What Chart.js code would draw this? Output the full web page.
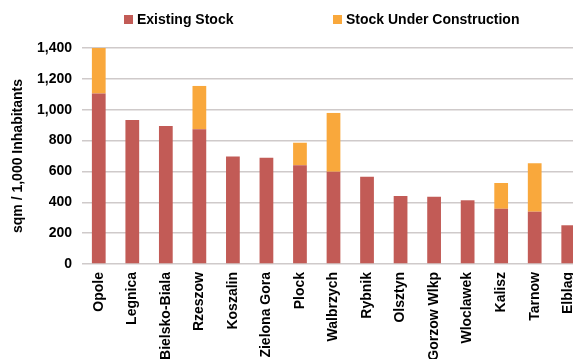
<!DOCTYPE html>
<html>
<head>
<meta charset="utf-8">
<script src="https://cdn.jsdelivr.net/npm/chart.js@4/dist/chart.umd.min.js"></script>
<style>
  html, body { margin: 0; padding: 0; background: #fff; overflow: hidden; }
  #wrap { width: 600px; height: 359px; }
</style>
</head>
<body>
<div id="wrap"><canvas id="chart" width="600" height="359"></canvas></div>
<script>
const cities = ["Opole", "Legnica", "Bielsko-Biala", "Rzeszow", "Koszalin", "Zielona Gora", "Plock",
    "Walbrzych", "Rybnik", "Olsztyn", "Gorzow Wlkp", "Wloclawek", "Kalisz", "Tarnow", "Elblag"];
const existingStock = [1105, 933, 894, 873, 696, 689, 640, 598, 566, 441, 436, 413, 358, 339, 251];
const underConstruction = [300, 0, 0, 281, 0, 0, 146, 381, 0, 0, 0, 0, 167, 314, 0];
const yTicks = [0, 200, 400, 600, 800, 1000, 1200, 1400];

const FONT = "'Liberation Sans', Arial, sans-serif";

// legend drawn by hand, the two entries sit far apart in the original
const spreadLegend = {
    id: 'spreadLegend',
    afterDraw(chart) {
        const ctx = chart.ctx;
        const spots = [124, 333];
        ctx.save();
        ctx.font = "bold 14px " + FONT;
        ctx.textBaseline = 'middle';
        chart.data.datasets.forEach((ds, i) => {
            ctx.fillStyle = ds.backgroundColor;
            ctx.fillRect(spots[i], 15, 9, 9);
            ctx.fillStyle = '#000';
            ctx.fillText(ds.label, spots[i] + 13, 20);
        });
        ctx.restore();
    }
};

const ctx = document.getElementById('chart').getContext('2d');
new Chart(ctx, {
    type: 'bar',
    data: {
        labels: cities,
        datasets: [{
            label: 'Existing Stock',
            data: existingStock,
            backgroundColor: '#C25B56',
            borderWidth: 0
        }, {
            label: 'Stock Under Construction',
            data: underConstruction,
            backgroundColor: '#F9A83C',
            borderWidth: 0
        }]
    },
    options: {
        responsive: false,
        animation: false,
        layout: { padding: { top: 48, right: 15, bottom: 0, left: 0 } },
        datasets: { bar: { categoryPercentage: 1, barPercentage: 0.41 } },
        plugins: { legend: { display: false }, tooltip: { enabled: false } },
        scales: {
            x: {
                stacked: true,
                grid: { display: false, drawTicks: false },
                border: { display: false },
                afterFit: s => { s.height = 95; },
                ticks: {
                    autoSkip: false,
                    minRotation: 90,
                    maxRotation: 90,
                    padding: 8,
                    color: '#000',
                    font: { family: FONT, size: 14, weight: 'bold' }
                }
            },
            y: {
                stacked: true,
                min: 0,
                max: 1400,
                afterFit: s => { s.width = 82; },
                afterBuildTicks: s => { s.ticks = yTicks.map(v => ({ value: v })); },
                grid: { color: '#CFCACA', lineWidth: 1.5, drawTicks: false },
                border: { display: false },
                ticks: {
                    padding: 10,
                    color: '#000',
                    font: { family: FONT, size: 14, weight: 'bold' },
                    callback: v => v.toLocaleString('en-US')
                },
                title: {
                    display: true,
                    text: 'sqm / 1,000 Inhabitants',
                    color: '#000',
                    padding: { top: 10, bottom: 0 },
                    font: { family: FONT, size: 14, weight: 'bold' }
                }
            }
        }
    },
    plugins: [spreadLegend]
});
</script>
</body>
</html>
